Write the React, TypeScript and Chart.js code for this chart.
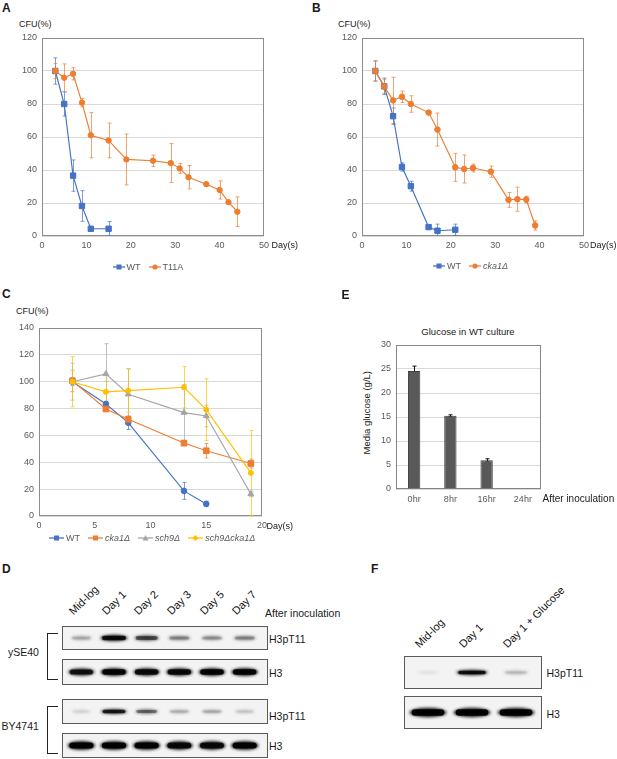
import { useEffect, useRef } from 'react'
import { Chart, registerables } from 'chart.js'

Chart.register(...registerables)

const FONT = '"Liberation Sans", Arial, sans-serif'
const BLUE = '#4472C4'
const ORANGE = '#ED7D31'
const GRAY = '#A5A5A5'
const GOLD = '#FFC000'
const TICK = '#595959'
const GRID = '#D9D9D9'
const FRAME = '#8C8C8C'

// A: WT vs T11A, CFU(%) by day
const aWtDays = [3, 5, 7, 9, 11, 15]
const aWtCfu = [100, 80, 36.6, 18.2, 4.4, 4.4]
const aWtErr = [8, 7.3, 9.5, 9.3, 1, 4.4]
const aT11aDays = [3, 5, 7, 9, 11, 15, 19, 25, 29, 31, 33, 37, 40, 42, 44]
const aT11aCfu = [100, 95.9, 98.3, 80.8, 61.1, 57.9, 46.4, 45.6, 44.2, 41, 35.6, 31.4, 27.9, 20.5, 14.7]
const aT11aErr = [4.5, 8.4, 3.7, 2.6, 13.7, 10.5, 15.4, 3.4, 11.8, 3, 7.1, 1, 5.5, 1, 9]

// B: WT vs cka1Δ
const bWtDays = [3, 5, 7, 9, 11, 15, 17, 21]
const bWtCfu = [100, 90.7, 72.6, 41.8, 30.2, 5.4, 3.2, 3.8]
const bWtErr = [6, 5, 5, 2.5, 3, 1, 4, 3.4]
const bCka1Days = [3, 5, 7, 9, 11, 15, 17, 21, 23, 25, 29, 33, 35, 37, 39]
const bCka1Cfu = [100, 90.7, 82.2, 84.4, 80, 74.8, 64.5, 41.6, 40.6, 41.2, 39, 21.9, 22.3, 22.1, 6.4]
const bCka1Err = [6.2, 4.3, 14, 3.5, 5, 0.5, 10, 8.5, 8.5, 2.4, 3.4, 4.5, 7.3, 2, 2.8]

// C: four strains
const cDays = [3, 6, 8, 13, 15, 19]
const cWtDays = [3, 6, 8, 13, 15]
const cWtCfu = [100, 83.4, 69.5, 18.7, 9]
const cWtErr = [3, 2, 5, 6.3, 2]
const cCka1Cfu = [100.6, 79.7, 72, 54.3, 48.6, 39.1]
const cCka1Err = [8, 1.5, 2, 2, 5.4, 3.3]
const cSch9Cfu = [100, 105.8, 90.7, 77, 74.5, 16.4]
const cSch9Err = [13.7, 22.5, 19, 21, 8, 2]
const cDoubleCfu = [100, 92.4, 93.4, 95.9, 79.2, 32.1]
const cDoubleErr = [18.7, 8, 16, 15.4, 23, 31.5]

// E: glucose in WT culture
const eHours = ['0hr', '8hr', '16hr', '24hr']
const eGlucose = [24.6, 15.25, 6.0, 0.1]
const eErr = [1, 0.2, 0.3, 0]

// D / F: blot band strength per lane (0..1)
const dLanes = ['Mid-log', 'Day 1', 'Day 2', 'Day 3', 'Day 5', 'Day 7']
const dYse40Pt11 = [0.3, 0.95, 0.7, 0.45, 0.4, 0.45]
const dYse40H3 = [0.9, 1, 0.95, 0.95, 1, 1]
const dByPt11 = [0.15, 0.9, 0.6, 0.3, 0.32, 0.2]
const dByH3 = [1, 1, 1, 0.95, 0.95, 1]
const fLanes = ['Mid-log', 'Day 1', 'Day 1 + Glucose']
const fPt11 = [0.04, 0.95, 0.25]
const fH3 = [1, 1, 1]

const Y_W = 40
const PAD_T = 8
const PAD_R = 14
const X_H = 18

const pts = (xs: number[], ys: number[]) => xs.map((x, i) => ({ x, y: ys[i] }))

function series(label: string, xs: number[], ys: number[], errs: number[], color: string, pointStyle: string, radius: number, order: number) {
  return {
    label,
    data: pts(xs, ys),
    errorBars: errs,
    errorColor: color + 'B3',
    borderColor: color,
    backgroundColor: color,
    pointBorderColor: color,
    pointBackgroundColor: color,
    pointStyle,
    pointRadius: radius,
    pointBorderWidth: 1,
    borderWidth: 1.15,
    showLine: true,
    order,
  }
}

const framePlugin = {
  id: 'frame',
  beforeDatasetsDraw(chart: any, _a: any, opts: any) {
    const { ctx, chartArea: a } = chart
    ctx.save()
    ctx.strokeStyle = opts.color || FRAME
    ctx.lineWidth = 1
    ctx.strokeRect(Math.round(a.left) + 0.5, Math.round(a.top) + 0.5, Math.round(a.width) - 1, Math.round(a.height) - 1)
    ctx.restore()
  },
}

const errorBarPlugin = {
  id: 'errorBars',
  beforeDatasetsDraw(chart: any) {
    const { ctx, chartArea: a } = chart
    const y = chart.scales.y
    ctx.save()
    ctx.beginPath()
    ctx.rect(a.left, a.top - 1, a.width, a.height + 1)
    ctx.clip()
    chart.data.datasets.forEach((ds: any, i: number) => {
      const errs = ds.errorBars
      if (!errs) return
      const meta = chart.getDatasetMeta(i)
      ctx.strokeStyle = ds.errorColor || ds.borderColor
      ctx.lineWidth = 1
      meta.data.forEach((el: any, j: number) => {
        const e = errs[j]
        if (!e) return
        const raw = ds.data[j]
        const v = typeof raw === 'number' ? raw : raw.y
        const top = y.getPixelForValue(v + e)
        const bot = y.getPixelForValue(v - e)
        const x = Math.round(el.x) + 0.5
        ctx.beginPath()
        ctx.moveTo(x, top)
        ctx.lineTo(x, bot)
        ctx.moveTo(x - 2, top)
        ctx.lineTo(x + 2, top)
        ctx.moveTo(x - 2, bot)
        ctx.lineTo(x + 2, bot)
        ctx.stroke()
      })
    })
    ctx.restore()
  },
}

const tickFont = { family: FONT, size: 9 }

function LineChart({ area, xMax, xStep, yMax, yStep, makeData }: any) {
  const ref = useRef<HTMLCanvasElement>(null)
  useEffect(() => {
    if (!ref.current) return
    const chart = new Chart(ref.current, {
      type: 'scatter',
      data: { datasets: makeData() },
      options: {
        animation: false,
        responsive: true,
        maintainAspectRatio: false,
        events: [],
        layout: { padding: { top: PAD_T, right: PAD_R, left: 0, bottom: 0 } },
        plugins: { legend: { display: false }, tooltip: { enabled: false } },
        scales: {
          x: {
            type: 'linear',
            min: 0,
            max: xMax,
            ticks: { stepSize: xStep, color: TICK, font: tickFont, padding: 4, maxRotation: 0 },
            grid: { display: false, drawTicks: false },
            border: { display: false },
            afterFit: (s: any) => {
              s.height = X_H
              s.paddingLeft = 0
              s.paddingRight = 0
            },
          },
          y: {
            min: 0,
            max: yMax,
            ticks: { stepSize: yStep, color: TICK, font: tickFont, padding: 5 },
            grid: { color: GRID, drawTicks: false },
            border: { display: false },
            afterFit: (s: any) => {
              s.width = Y_W
              s.paddingTop = 0
              s.paddingBottom = 0
            },
          },
        },
      } as any,
      plugins: [framePlugin, errorBarPlugin],
    })
    return () => chart.destroy()
  }, [])
  return (
    <div style={{ position: 'absolute', left: area.left - Y_W, top: area.top - PAD_T, width: Y_W + area.width + PAD_R, height: PAD_T + area.height + X_H }}>
      <canvas ref={ref} />
    </div>
  )
}

function GlucoseChart({ area }: any) {
  const ref = useRef<HTMLCanvasElement>(null)
  useEffect(() => {
    if (!ref.current) return
    const chart = new Chart(ref.current, {
      type: 'bar',
      data: {
        labels: eHours,
        datasets: [
          {
            data: eGlucose,
            errorBars: eErr,
            errorColor: '#111',
            backgroundColor: '#595959',
            borderColor: '#404040',
            borderWidth: 1,
            barPercentage: 0.34,
            categoryPercentage: 1,
          } as any,
        ],
      },
      options: {
        animation: false,
        responsive: true,
        maintainAspectRatio: false,
        events: [],
        layout: { padding: { top: PAD_T, right: 4, left: 0, bottom: 0 } },
        plugins: { legend: { display: false }, tooltip: { enabled: false }, frame: { color: '#858585' } },
        scales: {
          x: {
            offset: true,
            ticks: { color: TICK, font: tickFont, padding: 5, maxRotation: 0 },
            grid: { display: false, drawTicks: false },
            border: { display: false },
            afterFit: (s: any) => {
              s.height = X_H
              s.paddingLeft = 0
              s.paddingRight = 0
            },
          },
          y: {
            min: 0,
            max: 30,
            ticks: { stepSize: 5, color: TICK, font: tickFont, padding: 5 },
            grid: { color: GRID, drawTicks: false },
            border: { display: false },
            afterFit: (s: any) => {
              s.width = Y_W
              s.paddingTop = 0
              s.paddingBottom = 0
            },
          },
        },
      } as any,
      plugins: [framePlugin, errorBarPlugin],
    })
    return () => chart.destroy()
  }, [])
  return (
    <div style={{ position: 'absolute', left: area.left - Y_W, top: area.top - PAD_T, width: Y_W + area.width + 4, height: PAD_T + area.height + X_H }}>
      <canvas ref={ref} />
    </div>
  )
}

const bandPlugin = {
  id: 'bands',
  beforeDraw(chart: any) {
    const { ctx, width, height } = chart
    ctx.save()
    ctx.fillStyle = '#f3f3f3'
    ctx.fillRect(0, 0, width, height)
    ctx.restore()
  },
  afterDatasetsDraw(chart: any, _a: any, opts: any) {
    const { ctx, width, height } = chart
    const meta = chart.getDatasetMeta(0)
    const values = chart.data.datasets[0].data
    const cy = height / 2
    ctx.save()
    meta.data.forEach((bar: any, i: number) => {
      const v = values[i]
      if (!(v > 0)) return
      const w = bar.width * (opts.minW + (opts.maxW - opts.minW) * v)
      const h = opts.bandH * (0.5 + 0.5 * v)
      ctx.filter = 'blur(1.4px)'
      ctx.fillStyle = `rgba(25,25,25,${Math.min(1, 0.06 + 0.95 * v)})`
      ctx.beginPath()
      ctx.ellipse(bar.x, cy, w / 2, h / 2, 0, 0, Math.PI * 2)
      ctx.fill()
      ctx.filter = 'blur(0.7px)'
      ctx.fillStyle = `rgba(0,0,0,${v * v * 0.9})`
      ctx.beginPath()
      ctx.roundRect(bar.x - w * 0.44, cy - h * 0.34, w * 0.88, h * 0.68, h * 0.34)
      ctx.fill()
    })
    ctx.filter = 'none'
    ctx.strokeStyle = '#5a5a5a'
    ctx.lineWidth = 1
    ctx.strokeRect(0.5, 0.5, width - 1, height - 1)
    ctx.restore()
  },
}

function Blot({ box, lanes, levels, bandH, minW, maxW, padL, padR }: any) {
  const ref = useRef<HTMLCanvasElement>(null)
  useEffect(() => {
    if (!ref.current) return
    const chart = new Chart(ref.current, {
      type: 'bar',
      data: {
        labels: lanes,
        datasets: [{ data: levels, backgroundColor: 'rgba(0,0,0,0)', borderWidth: 0, barPercentage: 1, categoryPercentage: 1 }],
      },
      options: {
        animation: false,
        responsive: true,
        maintainAspectRatio: false,
        events: [],
        layout: { padding: { left: padL, right: padR, top: 0, bottom: 0 } },
        plugins: { legend: { display: false }, tooltip: { enabled: false }, bands: { bandH, minW, maxW } },
        scales: { x: { display: false, offset: true }, y: { display: false, min: 0, max: 1 } },
      } as any,
      plugins: [bandPlugin],
    })
    return () => chart.destroy()
  }, [])
  return (
    <div style={{ position: 'absolute', left: box.left, top: box.top, width: box.width, height: box.height }}>
      <canvas ref={ref} />
    </div>
  )
}

function T({ x, y, size = 9, bold, italic, color = '#1a1a1a', align = 'left', children }: any) {
  const tx = align === 'left' ? '0' : align === 'center' ? '-50%' : '-100%'
  return (
    <div
      style={{
        position: 'absolute',
        left: x,
        top: y - size / 2,
        fontSize: size,
        lineHeight: `${size}px`,
        fontFamily: FONT,
        fontWeight: bold ? 700 : 400,
        fontStyle: italic ? 'italic' : 'normal',
        color,
        whiteSpace: 'nowrap',
        transform: `translateX(${tx})`,
      }}
    >
      {children}
    </div>
  )
}

function Slant({ x, y, text, size = 11 }: any) {
  return (
    <div
      style={{
        position: 'absolute',
        left: x,
        top: y - size,
        fontSize: size,
        lineHeight: `${size}px`,
        fontFamily: FONT,
        color: '#111',
        whiteSpace: 'nowrap',
        transformOrigin: '0 100%',
        transform: 'rotate(-45deg)',
      }}
    >
      {text}
    </div>
  )
}

function Marker({ shape, color, cx, cy }: any) {
  if (shape === 'rect') return <rect x={cx - 2.5} y={cy - 2.5} width={5} height={5} fill={color} />
  if (shape === 'circle') return <circle cx={cx} cy={cy} r={2.6} fill={color} />
  if (shape === 'triangle') return <polygon points={`${cx},${cy - 3} ${cx + 3},${cy + 2.5} ${cx - 3},${cy + 2.5}`} fill={color} />
  return <polygon points={`${cx},${cy - 3} ${cx + 3},${cy} ${cx},${cy + 3} ${cx - 3},${cy}`} fill={color} />
}

function Legend({ x, y, items, glyphW = 12, gap = 8 }: any) {
  return (
    <div style={{ position: 'absolute', left: x, top: y - 6, height: 12, display: 'flex', alignItems: 'center', gap, fontFamily: FONT, fontSize: 9, color: TICK, whiteSpace: 'nowrap' }}>
      {items.map((it: any) => (
        <span key={it.label} style={{ display: 'flex', alignItems: 'center', gap: 2 }}>
          <svg width={glyphW} height={8}>
            <line x1={0} y1={4} x2={glyphW} y2={4} stroke={it.color} strokeWidth={1.3} />
            <Marker shape={it.marker} color={it.color} cx={glyphW / 2} cy={4} />
          </svg>
          <span style={{ fontStyle: it.italic ? 'italic' : 'normal' }}>{it.label}</span>
        </span>
      ))}
    </div>
  )
}

function Bracket({ x, top, height }: any) {
  return <div style={{ position: 'absolute', left: x, top, width: 10, height, borderLeft: '1px solid #222', borderTop: '1px solid #222', borderBottom: '1px solid #222' }} />
}

const makeA = () => [
  series('WT', aWtDays, aWtCfu, aWtErr, BLUE, 'rect', 3.8, 2),
  series('T11A', aT11aDays, aT11aCfu, aT11aErr, ORANGE, 'circle', 2.7, 1),
]
const makeB = () => [
  series('WT', bWtDays, bWtCfu, bWtErr, BLUE, 'rect', 3.8, 2),
  series('cka1Δ', bCka1Days, bCka1Cfu, bCka1Err, ORANGE, 'circle', 2.8, 1),
]
const makeC = () => [
  series('WT', cWtDays, cWtCfu, cWtErr, BLUE, 'circle', 2.8, 4),
  series('cka1Δ', cDays, cCka1Cfu, cCka1Err, ORANGE, 'rect', 4, 3),
  series('sch9Δ', cDays, cSch9Cfu, cSch9Err, GRAY, 'triangle', 3.4, 2),
  series('sch9Δcka1Δ', cDays, cDoubleCfu, cDoubleErr, GOLD, 'circle', 2.5, 1),
]

const D_PAD_L = 3
const D_PAD_R = 7
const F_PAD_L = 2
const F_PAD_R = 4
const dBoxes = [
  { left: 62, top: 626, width: 206, height: 24 },
  { left: 62, top: 659, width: 206, height: 26 },
  { left: 62, top: 699, width: 206, height: 25 },
  { left: 62, top: 733, width: 206, height: 25 },
]
const fBoxes = [
  { left: 404, top: 656, width: 138, height: 33 },
  { left: 404, top: 696, width: 138, height: 33 },
]

const laneX = (box: any, padL: number, padR: number, n: number, i: number) =>
  box.left + padL + ((i + 0.5) * (box.width - padL - padR)) / n

export default function App() {
  return (
    <div style={{ position: 'absolute', left: 0, top: 0, width: 617, height: 759, background: '#fff', overflow: 'hidden' }}>
      {/* A */}
      <T x={2} y={8} size={12} bold>A</T>
      <T x={19} y={24.5}>CFU(%)</T>
      <LineChart area={{ left: 42, top: 38, width: 222, height: 198 }} xMax={50} xStep={10} yMax={120} yStep={20} makeData={makeA} />
      <T x={271.5} y={245.7}>Day(s)</T>
      <Legend x={112.5} y={266.5} items={[{ label: 'WT', color: BLUE, marker: 'rect' }, { label: 'T11A', color: ORANGE, marker: 'circle' }]} />

      {/* B */}
      <T x={312} y={8} size={12} bold>B</T>
      <T x={338} y={24.5}>CFU(%)</T>
      <LineChart area={{ left: 362, top: 38, width: 222, height: 198 }} xMax={50} xStep={10} yMax={120} yStep={20} makeData={makeB} />
      <T x={590} y={245.7}>Day(s)</T>
      <Legend x={433} y={266} items={[{ label: 'WT', color: BLUE, marker: 'rect' }, { label: 'cka1Δ', color: ORANGE, marker: 'circle', italic: true }]} />

      {/* C */}
      <T x={2} y={294} size={12} bold>C</T>
      <T x={16} y={311}>CFU(%)</T>
      <LineChart area={{ left: 39, top: 328, width: 223, height: 188 }} xMax={20} xStep={5} yMax={140} yStep={20} makeData={makeC} />
      <T x={266.5} y={526.5}>Day(s)</T>
      <Legend
        x={49}
        y={537.7}
        glyphW={15}
        items={[
          { label: 'WT', color: BLUE, marker: 'rect' },
          { label: 'cka1Δ', color: ORANGE, marker: 'rect', italic: true },
          { label: 'sch9Δ', color: GRAY, marker: 'triangle', italic: true },
          { label: 'sch9Δcka1Δ', color: GOLD, marker: 'diamond', italic: true },
        ]}
      />

      {/* E */}
      <T x={341.5} y={294.5} size={12} bold>E</T>
      <T x={468} y={331.7} size={9.5} align="center">Glucose in WT culture</T>
      <div
        style={{
          position: 'absolute',
          left: 367,
          top: 412.5 - 4.75,
          fontSize: 9.5,
          lineHeight: '9.5px',
          fontFamily: FONT,
          color: '#1a1a1a',
          whiteSpace: 'nowrap',
          transform: 'translateX(-50%) rotate(-90deg)',
        }}
      >
        Media glucose (g/L)
      </div>
      <GlucoseChart area={{ left: 396, top: 345, width: 145, height: 144 }} />
      <T x={542.5} y={499.3} size={10}>After inoculation</T>

      {/* D */}
      <T x={2} y={569} size={12} bold>D</T>
      {dLanes.map((l, i) => (
        <Slant key={l} x={laneX(dBoxes[0], D_PAD_L, D_PAD_R, dLanes.length, i) - 6.5} y={617} text={l} />
      ))}
      <T x={265} y={613} size={10.5}>After inoculation</T>
      <Blot box={dBoxes[0]} lanes={dLanes} levels={dYse40Pt11} bandH={6.5} minW={0.55} maxW={0.85} padL={D_PAD_L} padR={D_PAD_R} />
      <Blot box={dBoxes[1]} lanes={dLanes} levels={dYse40H3} bandH={8} minW={0.7} maxW={0.82} padL={D_PAD_L} padR={D_PAD_R} />
      <Blot box={dBoxes[2]} lanes={dLanes} levels={dByPt11} bandH={5.5} minW={0.55} maxW={0.82} padL={D_PAD_L} padR={D_PAD_R} />
      <Blot box={dBoxes[3]} lanes={dLanes} levels={dByH3} bandH={9} minW={0.72} maxW={0.84} padL={D_PAD_L} padR={D_PAD_R} />
      <T x={269} y={639} size={10.5}>H3pT11</T>
      <T x={269} y={673} size={10.5}>H3</T>
      <T x={269} y={716} size={10.5}>H3pT11</T>
      <T x={269} y={746} size={10.5}>H3</T>
      <T x={8} y={652.3} size={10.5}>ySE40</T>
      <T x={1.5} y={726.7} size={10.5}>BY4741</T>
      <Bracket x={46.5} top={633} height={45} />
      <Bracket x={46.5} top={706} height={46} />

      {/* F */}
      <T x={371} y={569} size={12} bold>F</T>
      {fLanes.map((l, i) => (
        <Slant key={l} x={laneX(fBoxes[0], F_PAD_L, F_PAD_R, fLanes.length, i) - 7} y={649.5} text={l} />
      ))}
      <Blot box={fBoxes[0]} lanes={fLanes} levels={fPt11} bandH={5.5} minW={0.5} maxW={0.72} padL={F_PAD_L} padR={F_PAD_R} />
      <Blot box={fBoxes[1]} lanes={fLanes} levels={fH3} bandH={9.5} minW={0.8} maxW={0.84} padL={F_PAD_L} padR={F_PAD_R} />
      <T x={546.5} y={673.3} size={10.5}>H3pT11</T>
      <T x={546.5} y={714} size={10.5}>H3</T>
    </div>
  )
}
